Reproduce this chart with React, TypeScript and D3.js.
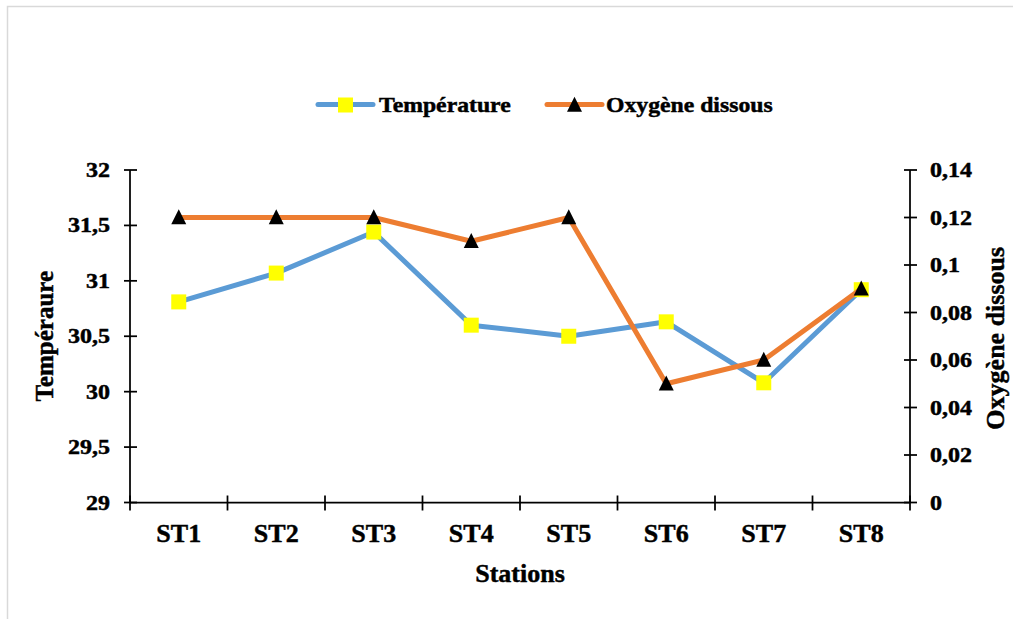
import React from "react";
import * as d3 from "d3";

const stations = ["ST1", "ST2", "ST3", "ST4", "ST5", "ST6", "ST7", "ST8"];
const temperature = [30.81, 31.07, 31.44, 30.6, 30.5, 30.63, 30.08, 30.92];
const oxygen = [0.12, 0.12, 0.12, 0.11, 0.12, 0.05, 0.06, 0.09];
const leftTicks = [29, 29.5, 30, 30.5, 31, 31.5, 32];
const rightTicks = [0, 0.02, 0.04, 0.06, 0.08, 0.1, 0.12, 0.14];

const BLUE = "#5B9BD5";
const ORANGE = "#ED7D31";
const FONT = "'Liberation Serif', 'Times New Roman', serif";

const fmt = (v: number) => String(v).replace(".", ",");

export default function App() {
  const left = 130, right = 910, top = 170, bottom = 502.5;
  const x = d3.scaleBand<string>().domain(stations).range([left, right]);
  const cx = (s: string) => (x(s) as number) + x.bandwidth() / 2;
  const yL = d3.scaleLinear().domain([29, 32]).range([bottom, top]);
  const yR = d3.scaleLinear().domain([0, 0.14]).range([bottom, top]);

  const tempLine = d3.line<number>().x((_, i) => cx(stations[i])).y((d) => yL(d));
  const oxyLine = d3.line<number>().x((_, i) => cx(stations[i])).y((d) => yR(d));

  const tri = (px: number, py: number, s = 15) =>
    `M${px},${py - s * 0.55} L${px + s / 2},${py + s * 0.45} L${px - s / 2},${py + s * 0.45} Z`;

  const boundaries = d3.range(stations.length + 1).map((i) => left + i * x.bandwidth());

  return (
    <svg
      width={1013}
      height={619}
      style={{ position: "absolute", left: 0, top: 0, background: "#fff" }}
      fontFamily={FONT}
      fontWeight="bold"
    >
      <rect x={0} y={0} width={1013} height={619} fill="#fff" />
      <rect x={7.5} y={6.5} width={1030} height={640} fill="none" stroke="#d9d9d9" strokeWidth={1.5} />

      <g stroke="#000" strokeWidth={0.45} fill="#000">
        {/* Legend texts */}
        <text transform="translate(379,112) scale(1.13,1)" fontSize={21}>Température</text>
        <text transform="translate(606,112) scale(1.13,1)" fontSize={21}>Oxygène dissous</text>
        {leftTicks.map((t) => (
          <text key={"lt" + t} transform={`translate(110,${yL(t) + 7}) scale(1.2,1)`} textAnchor="end" fontSize={20}>
            {fmt(t)}
          </text>
        ))}
        {rightTicks.map((t) => (
          <text key={"rt" + t} transform={`translate(930,${yR(t) + 7}) scale(1.2,1)`} textAnchor="start" fontSize={20}>
            {fmt(t)}
          </text>
        ))}
        {stations.map((s) => (
          <text key={s} x={cx(s)} y={542} textAnchor="middle" fontSize={26}>
            {s}
          </text>
        ))}
        <text x={(left + right) / 2} y={582} textAnchor="middle" fontSize={26}>
          Stations
        </text>
        <text transform={`translate(53,${(top + bottom) / 2}) rotate(-90)`} textAnchor="middle" fontSize={25}>
          Tempéraure
        </text>
        <text transform={`translate(1004,${(top + bottom) / 2 + 2}) rotate(-90)`} textAnchor="middle" fontSize={26}>
          Oxygène dissous
        </text>
      </g>

      {/* Legend symbols */}
      <line x1={318} x2={373} y1={104.5} y2={104.5} stroke={BLUE} strokeWidth={5} strokeLinecap="round" />
      <rect x={338} y={97.5} width={15} height={15} fill="#FFFF00" />
      <line x1={547} x2={602} y1={104.5} y2={104.5} stroke={ORANGE} strokeWidth={5} strokeLinecap="round" />
      <path d={tri(574.5, 105)} fill="#000" />

      {/* Left axis */}
      <line x1={left} x2={left} y1={top} y2={bottom} stroke="#000" strokeWidth={1.75} />
      {leftTicks.map((t) => (
        <line key={"l" + t} x1={left - 6} x2={left + 7} y1={yL(t)} y2={yL(t)} stroke="#000" strokeWidth={1.75} />
      ))}

      {/* Right axis */}
      <line x1={right} x2={right} y1={top} y2={bottom} stroke="#000" strokeWidth={1.75} />
      {rightTicks.map((t) => (
        <line key={"r" + t} x1={right - 6} x2={right + 7} y1={yR(t)} y2={yR(t)} stroke="#000" strokeWidth={1.75} />
      ))}

      {/* X axis */}
      <line x1={left} x2={right} y1={bottom} y2={bottom} stroke="#000" strokeWidth={1.75} />
      {boundaries.map((b, i) => (
        <line key={"b" + i} x1={b} x2={b} y1={bottom - 7} y2={bottom + 8} stroke="#000" strokeWidth={1.75} />
      ))}

      {/* Series */}
      <path d={tempLine(temperature) as string} fill="none" stroke={BLUE} strokeWidth={5} strokeLinejoin="round" />
      {temperature.map((v, i) => (
        <rect key={"t" + i} x={cx(stations[i]) - 7.5} y={yL(v) - 7.5} width={15} height={15} fill="#FFFF00" />
      ))}
      <path d={oxyLine(oxygen) as string} fill="none" stroke={ORANGE} strokeWidth={5} strokeLinejoin="round" />
      {oxygen.map((v, i) => (
        <path key={"o" + i} d={tri(cx(stations[i]), yR(v))} fill="#000" />
      ))}
    </svg>
  );
}
